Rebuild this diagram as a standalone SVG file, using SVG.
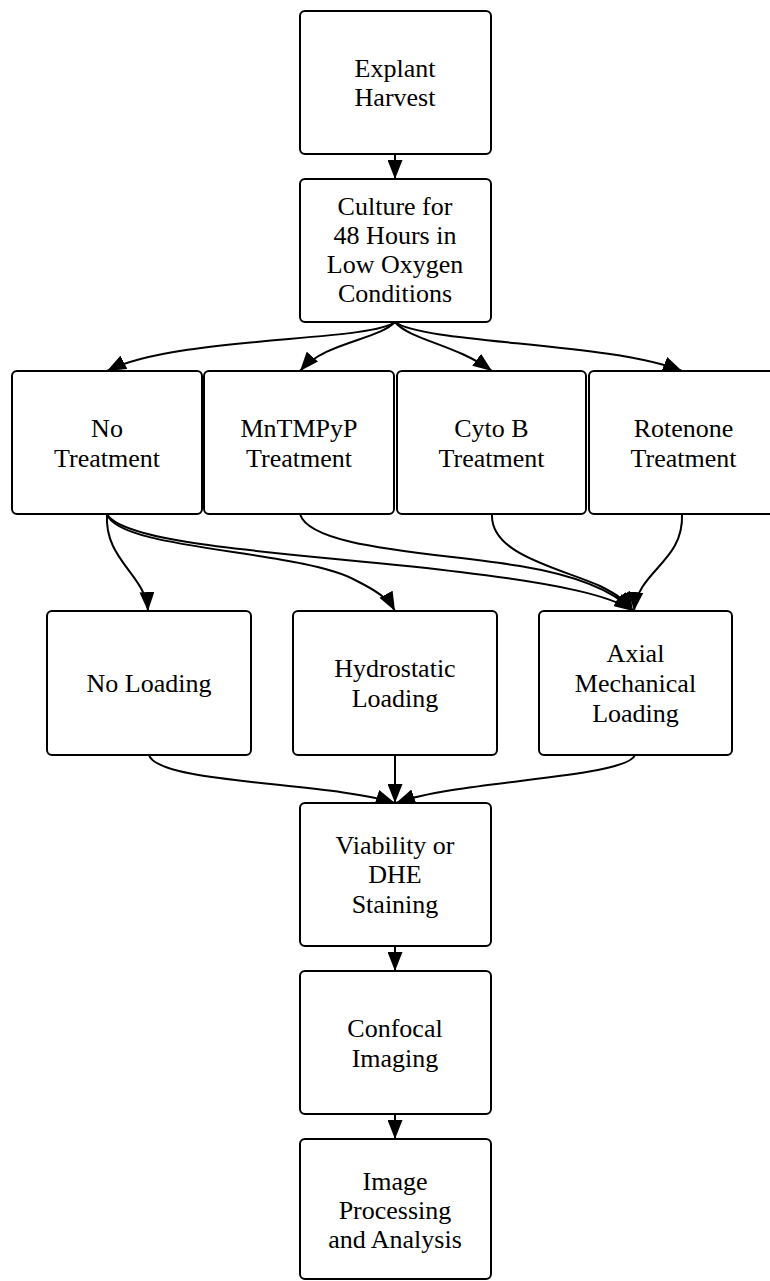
<svg xmlns="http://www.w3.org/2000/svg" width="770" height="1281" viewBox="0 0 770 1281">
<style>
  .box { fill: #ffffff; stroke: #000000; stroke-width: 2; }
  .lbl { font-family: "Liberation Serif", "DejaVu Serif", "Noto Serif", "Times New Roman", Times, serif; font-size: 26px; fill: #000000; text-anchor: middle; }
  .edge { fill: none; stroke: #000000; stroke-width: 2; marker-end: url(#arrow); }
</style>
<defs>
  <marker id="arrow" markerUnits="userSpaceOnUse" markerWidth="19" markerHeight="15" refX="19" refY="7.5" orient="auto" viewBox="0 0 19 15">
    <path d="M0,0 L19,7.5 L0,15 z" fill="#000000"/>
  </marker>
</defs>
<rect width="770" height="1281" fill="#ffffff"/>

<g id="connectors">
  <path class="edge" d="M395,154 L395,179"/>
  <path class="edge" d="M395,322 C370,342 175,336 107,371"/>
  <path class="edge" d="M395,322 C378,340 325,342 300,371"/>
  <path class="edge" d="M395,322 C410,340 455,344 492,371"/>
  <path class="edge" d="M395,322 C425,344 610,342 682,371"/>
  <path class="edge" d="M107,514 C104,560 146,575 148,611"/>
  <path class="edge" d="M107,514 C118,550 300,550 355,580 C375,590 388,598 395,611"/>
  <path class="edge" d="M107,514 C125,548 330,555 460,572 C560,584 612,596 633,611"/>
  <path class="edge" d="M300,514 C310,548 430,552 520,566 C580,576 615,592 633,611"/>
  <path class="edge" d="M492,514 C490,555 560,568 600,586 C616,594 627,601 633,611"/>
  <path class="edge" d="M682,514 C684,562 638,570 634,611"/>
  <path class="edge" d="M149,755 C158,784 330,782 395,803"/>
  <path class="edge" d="M395,755 L395,803"/>
  <path class="edge" d="M635,755 C626,778 460,780 396,803"/>
  <path class="edge" d="M395,946 L395,971"/>
  <path class="edge" d="M395,1114 L395,1139"/>
</g>

<g id="explant">
  <rect class="box" x="300" y="11" width="191" height="143" rx="5"/>
  <text class="lbl" x="395" y="77">Explant</text>
  <text class="lbl" x="395" y="106">Harvest</text>
</g>
<g id="culture">
  <rect class="box" x="300" y="179" width="191" height="143" rx="5"/>
  <text class="lbl" x="395" y="215">Culture for</text>
  <text class="lbl" x="395" y="244">48 Hours in</text>
  <text class="lbl" x="395" y="273">Low Oxygen</text>
  <text class="lbl" x="395" y="302">Conditions</text>
</g>
<g id="no-treatment">
  <rect class="box" x="12" y="371" width="190" height="143" rx="5"/>
  <text class="lbl" x="107" y="437">No</text>
  <text class="lbl" x="107" y="467">Treatment</text>
</g>
<g id="mntmpyp">
  <rect class="box" x="204" y="371" width="190" height="143" rx="5"/>
  <text class="lbl" x="299" y="437">MnTMPyP</text>
  <text class="lbl" x="299" y="467">Treatment</text>
</g>
<g id="cytob">
  <rect class="box" x="397" y="371" width="189" height="143" rx="5"/>
  <text class="lbl" x="491.5" y="437">Cyto B</text>
  <text class="lbl" x="491.5" y="467">Treatment</text>
</g>
<g id="rotenone">
  <rect class="box" x="589" y="371" width="190" height="143" rx="5"/>
  <text class="lbl" x="683.5" y="437">Rotenone</text>
  <text class="lbl" x="683.5" y="467">Treatment</text>
</g>
<g id="no-loading">
  <rect class="box" x="47" y="611" width="204" height="144" rx="5"/>
  <text class="lbl" x="149" y="692">No Loading</text>
</g>
<g id="hydrostatic">
  <rect class="box" x="293" y="611" width="204" height="144" rx="5"/>
  <text class="lbl" x="395" y="677">Hydrostatic</text>
  <text class="lbl" x="395" y="707">Loading</text>
</g>
<g id="axial">
  <rect class="box" x="539" y="611" width="193" height="144" rx="5"/>
  <text class="lbl" x="635.5" y="662">Axial</text>
  <text class="lbl" x="635.5" y="692">Mechanical</text>
  <text class="lbl" x="635.5" y="722">Loading</text>
</g>
<g id="viability">
  <rect class="box" x="300" y="803" width="191" height="143" rx="5"/>
  <text class="lbl" x="395" y="854">Viability or</text>
  <text class="lbl" x="395" y="883">DHE</text>
  <text class="lbl" x="395" y="913">Staining</text>
</g>
<g id="confocal">
  <rect class="box" x="300" y="971" width="191" height="143" rx="5"/>
  <text class="lbl" x="395" y="1037">Confocal</text>
  <text class="lbl" x="395" y="1067">Imaging</text>
</g>
<g id="image-processing">
  <rect class="box" x="300" y="1139" width="191" height="140" rx="5"/>
  <text class="lbl" x="395" y="1190">Image</text>
  <text class="lbl" x="395" y="1219">Processing</text>
  <text class="lbl" x="395" y="1248">and Analysis</text>
</g>
</svg>
